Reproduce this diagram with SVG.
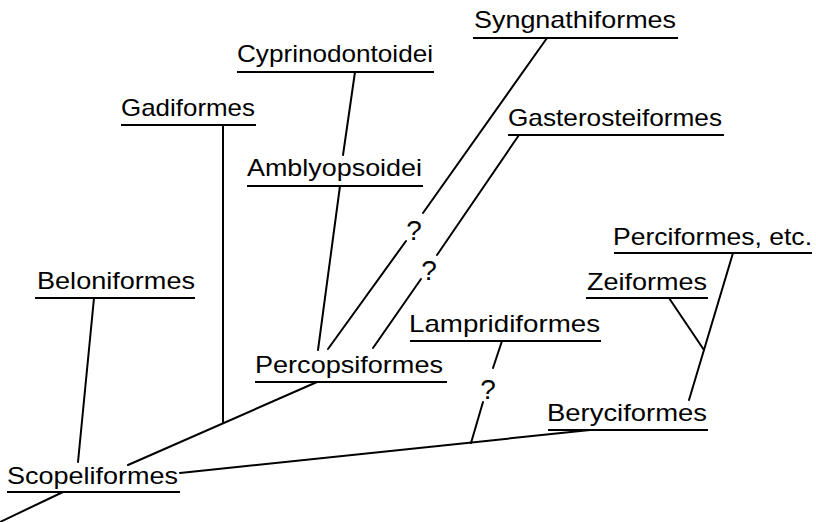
<svg xmlns="http://www.w3.org/2000/svg" width="816" height="522" viewBox="0 0 816 522">
<style>
text{font-family:"Liberation Sans",Arial,sans-serif;font-size:24px;fill:#000}
.u{stroke:#000;stroke-width:2.2;fill:none}
.c line{stroke:#000;stroke-width:2;fill:none;stroke-linecap:round}
.q{font-size:28px}
</style>
<rect width="816" height="522" fill="#fff"/>
<g id="syngnathiformes"><text x="474" y="28" textLength="202" lengthAdjust="spacingAndGlyphs">Syngnathiformes</text><line class="u" x1="473" y1="38" x2="678" y2="38"/></g>
<g id="cyprinodontoidei"><text x="237" y="62" textLength="196" lengthAdjust="spacingAndGlyphs">Cyprinodontoidei</text><line class="u" x1="237" y1="72" x2="434" y2="72"/></g>
<g id="gadiformes"><text x="121" y="116" textLength="134" lengthAdjust="spacingAndGlyphs">Gadiformes</text><line class="u" x1="121" y1="125" x2="256" y2="125"/></g>
<g id="gasterosteiformes"><text x="508" y="126" textLength="214" lengthAdjust="spacingAndGlyphs">Gasterosteiformes</text><line class="u" x1="508" y1="135" x2="724" y2="135"/></g>
<g id="amblyopsoidei"><text x="247" y="176" textLength="175" lengthAdjust="spacingAndGlyphs">Amblyopsoidei</text><line class="u" x1="247" y1="186" x2="423" y2="186"/></g>
<g id="perciformes"><text x="613" y="245" textLength="199" lengthAdjust="spacingAndGlyphs">Perciformes, etc.</text><line class="u" x1="614" y1="253" x2="812" y2="253"/></g>
<g id="beloniformes"><text x="37" y="289" textLength="158" lengthAdjust="spacingAndGlyphs">Beloniformes</text><line class="u" x1="35" y1="298" x2="195" y2="298"/></g>
<g id="zeiformes"><text x="587" y="290" textLength="120" lengthAdjust="spacingAndGlyphs">Zeiformes</text><line class="u" x1="586" y1="298" x2="708" y2="298"/></g>
<g id="lampridiformes"><text x="409" y="332" textLength="191" lengthAdjust="spacingAndGlyphs">Lampridiformes</text><line class="u" x1="410" y1="341" x2="601" y2="341"/></g>
<g id="percopsiformes"><text x="255" y="373" textLength="188" lengthAdjust="spacingAndGlyphs">Percopsiformes</text><line class="u" x1="255" y1="382" x2="447" y2="382"/></g>
<g id="beryciformes"><text x="547" y="421" textLength="160" lengthAdjust="spacingAndGlyphs">Beryciformes</text><line class="u" x1="548" y1="430" x2="708" y2="430"/></g>
<g id="scopeliformes"><text x="7" y="484" textLength="171" lengthAdjust="spacingAndGlyphs">Scopeliformes</text><line class="u" x1="7" y1="492" x2="180" y2="492"/></g>
<g id="connectors" class="c">
<line x1="63" y1="492" x2="0" y2="522"/>
<line x1="128" y1="465" x2="317" y2="382"/>
<line x1="223" y1="125" x2="223" y2="423"/>
<line x1="94" y1="298" x2="78" y2="462"/>
<line x1="180" y1="473" x2="590" y2="430"/>
<line x1="355" y1="72" x2="343" y2="155"/>
<line x1="340" y1="186" x2="318" y2="350"/>
<line x1="547" y1="38" x2="423" y2="213"/>
<line x1="406" y1="241" x2="328" y2="349"/>
<line x1="519" y1="135" x2="437" y2="255"/>
<line x1="421" y1="279" x2="373" y2="348"/>
<line x1="502" y1="341" x2="493" y2="368"/>
<line x1="483" y1="402" x2="471" y2="443"/>
<line x1="733" y1="253" x2="689" y2="400"/>
<line x1="669" y1="298" x2="704" y2="350"/>
</g>
<g id="question-marks">
<text class="q" x="414" y="240" text-anchor="middle">?</text>
<text class="q" x="429" y="280" text-anchor="middle">?</text>
<text class="q" x="488" y="399" text-anchor="middle">?</text>
</g>
</svg>
